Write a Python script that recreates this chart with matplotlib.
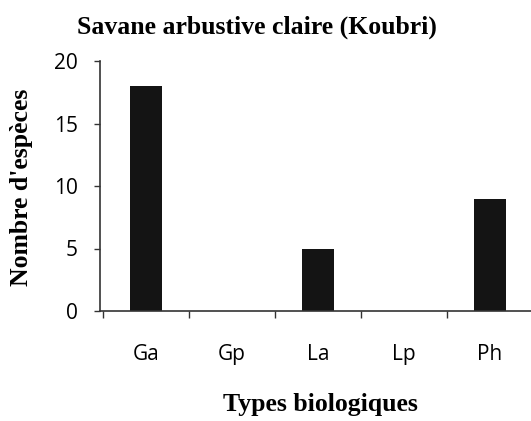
import numpy as np
import matplotlib
matplotlib.use("Agg")
import matplotlib.pyplot as plt

types = ["Ga", "Gp", "La", "Lp", "Ph"]
especes = [18, 0, 5, 0, 9]
yticks = [0, 5, 10, 15, 20]

fig = plt.figure(figsize=(5.31, 4.21), dpi=100)
ax = fig.add_axes([100 / 531, 110 / 421, 433 / 531, 250 / 421])

x = np.arange(len(types))
ax.bar(x, especes, width=0.38, color="#141414", zorder=2)

ax.set_xlim(-0.535, len(types) - 0.5)
ax.set_ylim(0, 20)
ax.set_yticks(yticks)
ax.set_xticks(x)
ax.set_xticklabels(types)
ax.set_xticks(np.arange(-0.5, len(types) + 0.5, 1), minor=True)
ax.tick_params(axis="x", which="major", length=0, pad=24, labelsize=15)
ax.tick_params(axis="x", which="minor", length=5, width=1, color="#333333", direction="out")
ax.tick_params(axis="y", which="major", length=4, width=1, color="#333333", pad=12, labelsize=15)
for lab in ax.get_xticklabels() + ax.get_yticklabels():
    lab.set_family("Open Sans")

for s in ["top", "right"]:
    ax.spines[s].set_visible(False)
for s in ["left", "bottom"]:
    ax.spines[s].set_color("#333333")
    ax.spines[s].set_linewidth(1.2)

fig.text(257 / 531, 1 - 27 / 421, "Savane arbustive claire (Koubri)", ha="center", va="center",
         family="Liberation Serif", weight="bold", fontsize=18.5)
fig.text(320 / 531, 1 - 404 / 421, "Types biologiques", ha="center", va="center",
         family="Liberation Serif", weight="bold", fontsize=18.5)
fig.text(22 / 531, 1 - 187 / 421, "Nombre d'espèces", ha="center", va="center", rotation=90,
         family="Liberation Serif", weight="bold", fontsize=18.5)

fig.savefig("out.png", dpi=100)
